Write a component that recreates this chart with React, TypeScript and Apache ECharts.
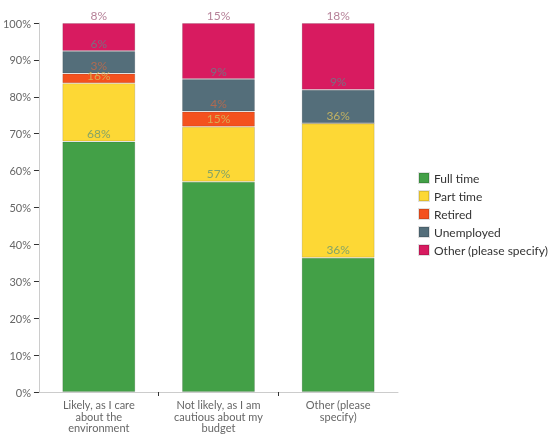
import { useEffect, useRef } from 'react';
import * as echarts from 'echarts';

const categories = [
  'Likely, as I care\nabout the\nenvironment',
  'Not likely, as I am\ncautious about my\nbudget',
  'Other (please\nspecify)',
];
const seriesNames = ['Full time', 'Part time', 'Retired', 'Unemployed', 'Other (please specify)'];
const fullTime = [67.9, 57.0, 36.4];
const partTime = [15.8, 14.9, 36.4];
const retired = [2.6, 4.1, 0];
const unemployed = [6.1, 8.8, 9.1];
const other = [7.6, 15.2, 18.1];
const yTicks = [0, 10, 20, 30, 40, 50, 60, 70, 80, 90, 100];

const colors = ['#43a047', '#fdd835', '#f4511e', '#546e7a', '#d81b60'];
const labelColors = ['#6f9a70', '#d2bc5e', '#c06a4a', '#6b7c86', '#a86a85'];

export default function App() {
  const chartRef = useRef<HTMLDivElement>(null);

  useEffect(() => {
    if (!chartRef.current) return;
    const chart = echarts.init(chartRef.current, null, { renderer: 'svg' });
    const values = [fullTime, partTime, retired, unemployed, other];

    chart.setOption({
      animation: false,
      textStyle: { fontFamily: 'Lato' },
      color: colors,
      grid: { left: 38, right: 152, top: 23, bottom: 44 },
      legend: {
        orient: 'vertical',
        left: 413,
        top: 167,
        itemWidth: 10,
        itemHeight: 10,
        itemGap: 6,
        icon: 'rect',
        textStyle: { color: '#333', fontSize: 12 },
        data: seriesNames,
      },
      xAxis: [
        {
          type: 'category',
          data: categories,
          axisLine: { lineStyle: { color: '#ccc' } },
          axisTick: { show: false },
          axisLabel: { color: '#666', fontSize: 11, lineHeight: 11.5, margin: 7, interval: 0 },
        },
        {
          // only the ticks between the categories
          type: 'value',
          position: 'bottom',
          min: 0,
          max: categories.length,
          interval: 1,
          axisLine: { show: false },
          axisLabel: { show: false },
          splitLine: { show: false },
          axisTick: {
            show: true,
            length: 4,
            lineStyle: { color: '#333' },
            customValues: [1, 2],
          },
        },
      ],
      yAxis: {
        type: 'value',
        min: 0,
        max: 100,
        interval: 10,
        axisLine: { show: true, lineStyle: { color: '#ccc' } },
        axisTick: { show: true, length: 5, lineStyle: { color: '#333' } },
        splitLine: { show: false },
        axisLabel: {
          color: '#666',
          fontSize: 11,
          margin: 8,
          formatter: (v: number) => (yTicks.includes(v) ? `${v}%` : ''),
        },
      },
      series: seriesNames.map((name, i) => ({
        name,
        type: 'bar',
        stack: 'total',
        barWidth: '61%',
        data: values[i],
        itemStyle: { color: colors[i], borderColor: 'rgba(0,0,0,0.12)', borderWidth: 1 },
        label: {
          show: true,
          position: 'top',
          distance: 2,
          fontSize: 12,
          color: labelColors[i],
          opacity: 0.85,
          formatter: (p: { value: number }) => (p.value > 0 ? `${Math.round(p.value)}%` : ''),
        },
      })),
    });

    return () => {
      chart.dispose();
    };
  }, []);

  return (
    <div
      ref={chartRef}
      style={{ position: 'fixed', left: 0, top: 0, width: 550, height: 436 }}
    />
  );
}
